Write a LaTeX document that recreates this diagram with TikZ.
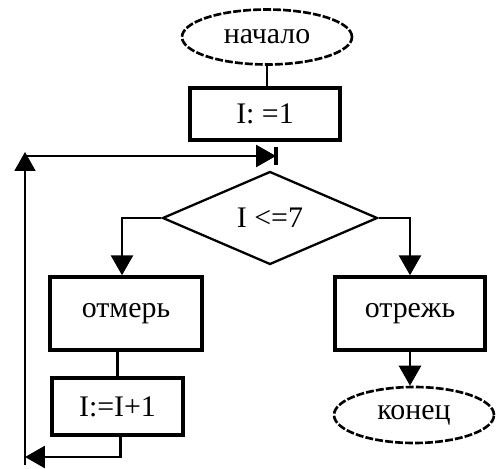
\documentclass[tikz,border=0pt]{standalone}
\usepackage{fontspec}
\setmainfont{Liberation Serif}
\usetikzlibrary{shapes.geometric,arrows.meta,calc}
\begin{document}
\begin{tikzpicture}[x=0.02cm,y=-0.02cm,
  txt/.style={font=\fontsize{17}{20}\selectfont},
  term/.style={ellipse,draw,line width=1.5pt,dash pattern=on 4.5pt off 1.2pt,inner sep=0pt,txt},
  box/.style={rectangle,draw,line width=2pt,inner sep=0pt,txt},
  dec/.style={diamond,draw,line width=1.3pt,inner sep=0pt,txt},
  link/.style={line width=1.6pt},
  arr/.style={line width=1.6pt,-{Triangle[length=0.4cm,width=0.44cm]}},
  thinarr/.style={line width=1.1pt,-{Triangle[length=0.38cm,width=0.42cm]}}]
\useasboundingbox (0,0) rectangle (497,469);
\node[term,minimum width=3.4cm,minimum height=1.1cm] (start) at (267,37) {начало};
\node[box,minimum width=3.0cm,minimum height=1.04cm] (init) at (265,114) {I: =1};
\node[dec,minimum width=4.3cm,minimum height=1.86cm] (cond) at (270,218) {I <=7};
\node[box,minimum width=3.04cm,minimum height=1.46cm] (otm) at (126,313.5) {отмерь};
\node[box,minimum width=3.0cm,minimum height=1.46cm] (otr) at (410,313.5) {отрежь};
\node[box,minimum width=2.62cm,minimum height=1.14cm] (inc) at (117.5,406.5) {I:=I+1};
\node[term,minimum width=3.2cm,minimum height=1.12cm] (fin) at (414,415) {конец};
\coordinate (tkt) at (276,147);
\coordinate (tkb) at (276,165);
\coordinate (tk) at (276,156);
\coordinate (lt) at (25,152);
\coordinate (lh) at (25,156);
\coordinate (lb) at (25,465);
\coordinate (lj) at (25,457);
\draw[link] (start.south) -- (start.south |- init.north);
\draw[line width=2pt] (tkt) -- (tkb);
\draw[thinarr] (lb) -- (lt);
\draw[arr] (lh) -- (tk);
\draw[arr] (cond.west) -| ($(otm.north)+(-4,0)$);
\draw[arr] (cond.east) -| (otr.north);
\draw[link] (inc.north |- otm.south) -- (inc.north);
\draw[arr] ($(inc.south)+(3,0)$) |- (lj);
\draw[arr] (otr.south) -- (otr.south |- fin.north);
\end{tikzpicture}
\end{document}
